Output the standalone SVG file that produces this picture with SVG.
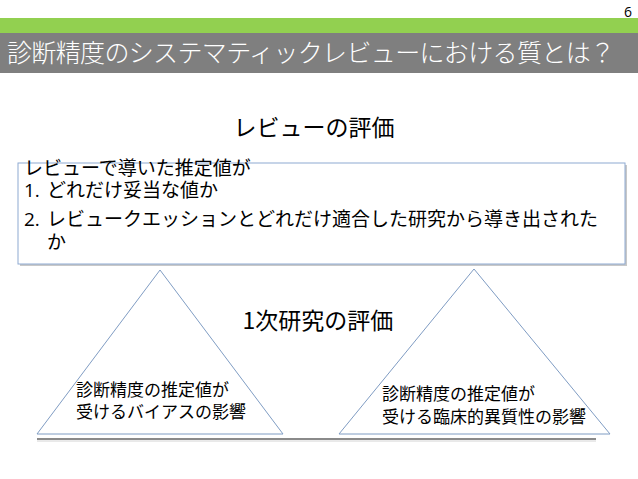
<svg xmlns="http://www.w3.org/2000/svg" width="638" height="479" viewBox="0 0 638 479">
<style>
.jp{font-family:"Noto Sans CJK JP","Noto Sans CJK SC",sans-serif;fill:#000}
.lat{font-family:"Open Sans","Liberation Sans",sans-serif}
.tri{fill:#fff;stroke:#7f9cc3;stroke-width:1}
.bt{font-size:19px}
.tt{font-size:17px}
.hd{font-size:23px}
</style>
<rect width="638" height="479" fill="#fff"/>
<g id="header">
<rect x="0" y="18" width="638" height="15" fill="#92d050"/>
<rect x="0" y="33" width="638" height="40" fill="#7f7f7f"/>
<text x="7" y="62" class="jp" style="fill:#fff;font-size:25px;font-weight:300" textLength="608" lengthAdjust="spacing">診断精度のシステマティックレビューにおける質とは？</text>
<text x="632" y="17" class="lat" style="font-size:14px" text-anchor="end">6</text>
</g>
<g id="review-title">
<text x="314" y="136" class="jp hd" text-anchor="middle">レビューの評価</text>
</g>
<g id="review-box">
<rect x="20" y="165" width="607" height="101" fill="#c8c8c8"/>
<rect x="18" y="163" width="607" height="101" fill="#fff" stroke="#8eaad2" stroke-width="1"/>
<text x="24" y="175" class="jp bt">レビューで導いた推定値が</text>
<text x="24" y="197" class="jp bt"><tspan class="lat">1.</tspan><tspan x="47">どれだけ妥当な値か</tspan></text>
<text x="24" y="226" class="jp bt"><tspan class="lat">2.</tspan><tspan x="47">レビュークエッションとどれだけ適合した研究から導き出された</tspan></text>
<text x="47" y="249" class="jp bt">か</text>
</g>
<g id="connectors">
<line x1="37" y1="439" x2="596" y2="439" stroke="#8a8a8a" stroke-width="2"/>
<line x1="37" y1="441" x2="596" y2="441" stroke="#d4d4d4" stroke-width="1"/>
</g>
<g id="bias-triangle">
<polygon class="tri" points="160,270 37,434 283,434"/>
<text x="76" y="396" class="jp tt">診断精度の推定値が</text>
<text x="76" y="418" class="jp tt">受けるバイアスの影響</text>
</g>
<g id="heterogeneity-triangle">
<polygon class="tri" points="474,269 339,434 610,434"/>
<text x="382" y="400" class="jp tt">診断精度の推定値が</text>
<text x="382" y="423" class="jp tt">受ける臨床的異質性の影響</text>
</g>
<g id="primary-title">
<text x="318" y="329" class="jp hd" text-anchor="middle">1次研究の評価</text>
</g>
</svg>
